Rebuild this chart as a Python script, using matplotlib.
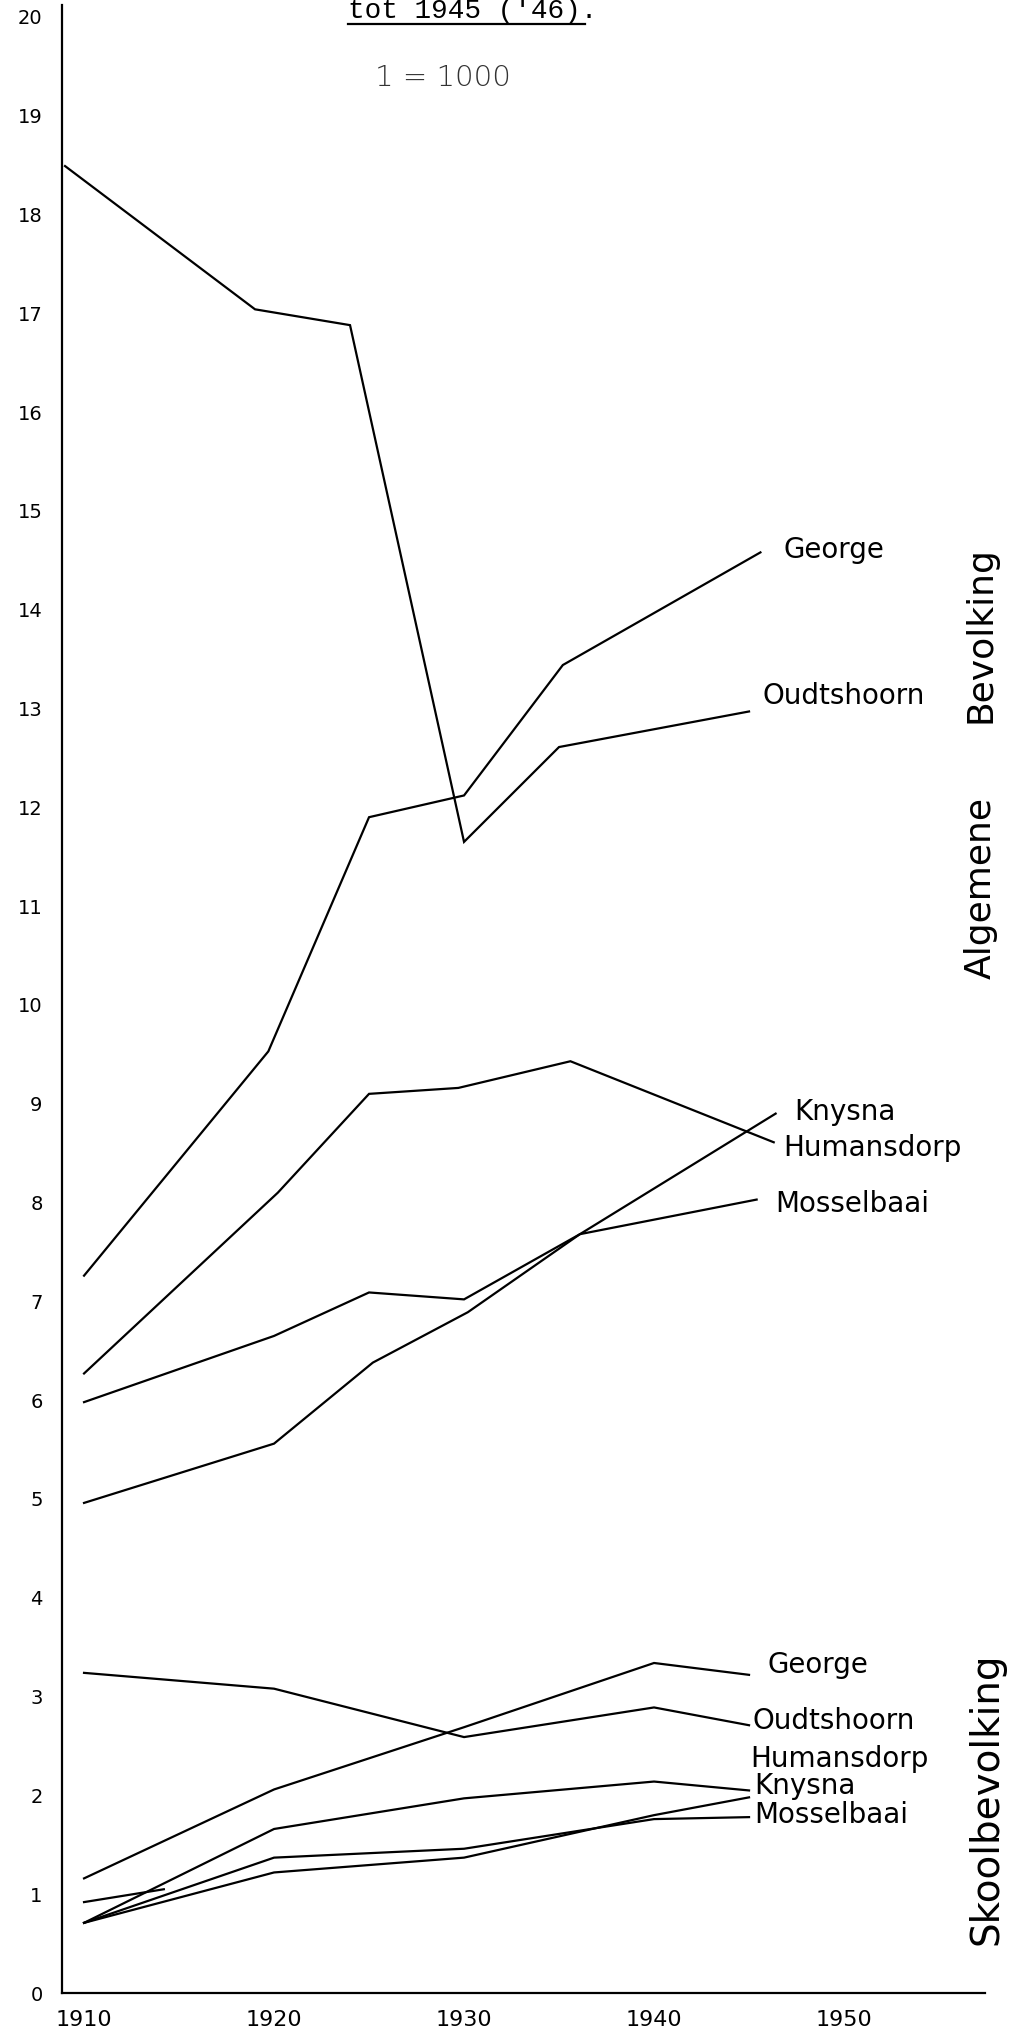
import matplotlib
matplotlib.use("Agg")
import matplotlib.pyplot as plt
from matplotlib.lines import Line2D

# Algemene bevolking (x 1000)
alg_oudtshoorn_jare = [1909, 1919, 1924, 1930, 1935, 1945]
alg_oudtshoorn = [18.49, 17.04, 16.88, 11.65, 12.61, 12.97]
alg_george_jare = [1910, 1919.7, 1925, 1930, 1935.2, 1945.6]
alg_george = [7.26, 9.53, 11.90, 12.12, 13.44, 14.58]
alg_humansdorp_jare = [1910, 1920.2, 1925, 1929.7, 1935.6, 1946.3]
alg_humansdorp = [6.27, 8.10, 9.10, 9.16, 9.43, 8.61]
alg_knysna_jare = [1910, 1920, 1925.2, 1930.2, 1936.1, 1946.4]
alg_knysna = [4.96, 5.56, 6.38, 6.89, 7.68, 8.90]
alg_mosselbaai_jare = [1910, 1920, 1925, 1930, 1936.1, 1945.4]
alg_mosselbaai = [5.98, 6.65, 7.09, 7.02, 7.68, 8.03]

# Skoolbevolking (x 1000)
skool_jare = [1910, 1920, 1930, 1940, 1945]
skool_oudtshoorn = [3.24, 3.08, 2.59, 2.89, 2.71]
skool_george = [1.16, 2.06, 2.69, 3.34, 3.22]
skool_humansdorp = [0.71, 1.66, 1.97, 2.14, 2.05]
skool_knysna = [0.71, 1.22, 1.37, 1.80, 1.98]
skool_mosselbaai = [0.71, 1.37, 1.46, 1.76, 1.78]
stomp_jare = [1910, 1914.2]
stomp = [0.92, 1.05]

x_ticks = [1910, 1920, 1930, 1940, 1950]
y_ticks = list(range(0, 21))

fig = plt.figure(figsize=(10.23, 20.35), dpi=100)
ax = fig.add_axes([62 / 1023, 42 / 2035, (985 - 62) / 1023, (1993 - 5) / 2035])

lyne = [
    (alg_oudtshoorn_jare, alg_oudtshoorn),
    (alg_george_jare, alg_george),
    (alg_humansdorp_jare, alg_humansdorp),
    (alg_knysna_jare, alg_knysna),
    (alg_mosselbaai_jare, alg_mosselbaai),
    (skool_jare, skool_oudtshoorn),
    (skool_jare, skool_george),
    (skool_jare, skool_humansdorp),
    (skool_jare, skool_knysna),
    (skool_jare, skool_mosselbaai),
    (stomp_jare, stomp),
]
for jare, waardes in lyne:
    ax.plot(jare, waardes, color="black", lw=1.6, solid_joinstyle="miter")

ax.set_xlim(1908.84, 1957.42)
ax.set_ylim(0, 20.12)
for s in ["top", "right"]:
    ax.spines[s].set_visible(False)
ax.spines["left"].set_linewidth(1.6)
ax.spines["bottom"].set_linewidth(1.6)
ax.set_xticks(x_ticks)
ax.set_yticks(y_ticks)
ax.tick_params(length=0, labelsize=14)
ax.tick_params(axis="x", pad=12, labelsize=16)
ax.tick_params(axis="y", pad=14)

fs = 20
# etikette: algemene bevolking
ax.text(1946.84, 14.6, "George", fontsize=fs, va="center")
ax.text(1945.7, 13.13, "Oudtshoorn", fontsize=fs, va="center")
ax.text(1947.4, 8.92, "Knysna", fontsize=fs, va="center")
ax.text(1946.8, 8.55, "Humansdorp", fontsize=fs, va="center")
ax.text(1946.4, 7.99, "Mosselbaai", fontsize=fs, va="center")
# etikette: skoolbevolking
ax.text(1945.95, 3.32, "George", fontsize=fs, va="center")
ax.text(1945.2, 2.75, "Oudtshoorn", fontsize=fs, va="center")
ax.text(1945.06, 2.37, "Humansdorp", fontsize=fs, va="center")
ax.text(1945.3, 2.09, "Knysna", fontsize=fs, va="center")
ax.text(1945.3, 1.80, "Mosselbaai", fontsize=fs, va="center")

ax.text(1957.2, 13.75, "Bevolking", fontsize=26, rotation=90,
        ha="center", va="center", clip_on=False)
ax.text(1957.2, 11.18, "Algemene", fontsize=26, rotation=90,
        ha="center", va="center", clip_on=False)
ax.text(1957.5, 1.97, "Skoolbevolking", fontsize=28, rotation=90,
        ha="center", va="center", clip_on=False)

# titel (bo afgesny) en skaal
titel = fig.text(473 / 1023, 1 - 18 / 2035, "tot 1945 ('46).", fontsize=20,
                 family="Liberation Mono", ha="center", va="baseline")
fig.text(443 / 1023, 1 - 78 / 2035, "1 = 1000", fontsize=21,
         ha="center", va="center", color="#333333", fontweight="light")

fig.canvas.draw()
bb = titel.get_window_extent().transformed(fig.transFigure.inverted())
y_lyn = 1 - 24 / 2035
fig.add_artist(Line2D([bb.x0, bb.x1 - 0.012], [y_lyn, y_lyn],
                      color="black", lw=1.6, transform=fig.transFigure))

fig.savefig("out.png", dpi=100, facecolor="white")
